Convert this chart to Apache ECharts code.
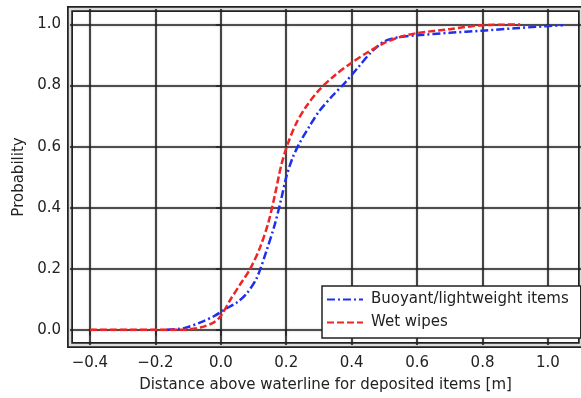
<!DOCTYPE html>
<html>
<head>
<meta charset="utf-8">
<script src="https://cdn.jsdelivr.net/npm/echarts@6/dist/echarts.min.js"></script>
<style>html,body{margin:0;padding:0;background:#fff}#c{width:581px;height:398px}</style>
</head>
<body>
<div id="c"></div>
<script>
// Data
var xTicks = [-0.4, -0.2, 0.0, 0.2, 0.4, 0.6, 0.8, 1.0];
var yTicks = [0.0, 0.2, 0.4, 0.6, 0.8, 1.0];

var buoyantName = 'Buoyant/lightweight items';
var buoyantX = [-0.165, -0.11, -0.06, -0.02, 0.01, 0.05, 0.08, 0.11, 0.14, 0.165, 0.185, 0.2, 0.22, 0.245, 0.27, 0.3, 0.34, 0.38, 0.42, 0.46, 0.5, 0.54, 0.6, 0.7, 0.8, 0.9, 1.046];
var buoyantY = [0.0, 0.006, 0.025, 0.045, 0.065, 0.09, 0.12, 0.17, 0.26, 0.345, 0.43, 0.5, 0.565, 0.62, 0.665, 0.715, 0.765, 0.81, 0.86, 0.91, 0.945, 0.958, 0.965, 0.973, 0.98, 0.988, 0.998];

var wipesName = 'Wet wipes';
var wipesX = [-0.4, -0.12, -0.06, -0.02, 0.0, 0.03, 0.06, 0.09, 0.12, 0.145, 0.165, 0.185, 0.205, 0.23, 0.26, 0.3, 0.35, 0.4, 0.45, 0.5, 0.55, 0.6, 0.7, 0.8, 0.915];
var wipesY = [0.0, 0.0, 0.008, 0.025, 0.045, 0.1, 0.15, 0.2, 0.27, 0.35, 0.44, 0.54, 0.61, 0.675, 0.73, 0.785, 0.835, 0.875, 0.91, 0.94, 0.96, 0.972, 0.985, 0.998, 1.0];

var xLabel = 'Distance above waterline for deposited items [m]';
var yLabel = 'Probability';

function pairs(xs, ys) { return xs.map(function (x, i) { return [x, ys[i]]; }); }
function fmt(v) { return (v < 0 ? '\u2212' : '') + Math.abs(v).toFixed(1); }

var FONT = 'DejaVu Sans';
var X_MIN = -0.461, X_MAX = 1.101, Y_MIN = -0.05, Y_MAX = 1.051;
var gridPos = { left: 70, right: 0, top: 9, bottom: 53 };
var splitStyle = { color: '#222', width: 1.6, shadowColor: 'rgba(0,0,0,0.35)', shadowBlur: 2 };

var chart = echarts.init(document.getElementById('c'), null, { renderer: 'canvas' });
chart.setOption({
  animation: false,
  backgroundColor: '#fff',
  grid: [
    Object.assign({ show: true, borderColor: '#222', borderWidth: 6, backgroundColor: 'transparent' }, gridPos),
    Object.assign({ show: true, borderColor: '#dcdcdc', borderWidth: 2.5, backgroundColor: 'transparent' }, gridPos)
  ],
  xAxis: [{
    gridIndex: 0, type: 'value', min: X_MIN, max: X_MAX, splitNumber: 8,
    name: xLabel, nameLocation: 'middle', nameGap: 33,
    nameTextStyle: { fontFamily: FONT, fontSize: 15, color: '#222' },
    axisLine: { show: false },
    axisTick: { show: true, inside: false, length: 6, customValues: xTicks, lineStyle: { color: '#222', width: 1.5 } },
    axisLabel: { customValues: xTicks, formatter: fmt, fontFamily: FONT, fontSize: 15, color: '#222', margin: 11 },
    splitLine: { show: true, lineStyle: splitStyle }
  }, {
    gridIndex: 1, type: 'value', min: X_MIN, max: X_MAX, show: false
  }],
  yAxis: [{
    gridIndex: 0, type: 'value', min: Y_MIN, max: Y_MAX, splitNumber: 5,
    name: yLabel, nameLocation: 'middle', nameGap: 43, nameRotate: 90,
    nameTextStyle: { fontFamily: FONT, fontSize: 15, color: '#222' },
    axisLine: { show: false },
    axisTick: { show: true, inside: false, length: 5, customValues: yTicks, lineStyle: { color: '#222', width: 1.5 } },
    axisLabel: { customValues: yTicks, formatter: fmt, fontFamily: FONT, fontSize: 15, color: '#222', margin: 9 },
    splitLine: { show: true, lineStyle: splitStyle }
  }, {
    gridIndex: 1, type: 'value', min: Y_MIN, max: Y_MAX, show: false
  }],
  legend: {
    orient: 'vertical', left: 322, top: 286,
    padding: [6, 12, 8, 4], itemWidth: 36, itemHeight: 14, itemGap: 8,
    backgroundColor: '#fff', borderColor: '#222', borderWidth: 1.5,
    itemStyle: { opacity: 0 },
    textStyle: { fontFamily: FONT, fontSize: 15, color: '#222', padding: [0, 0, 0, 3] },
    data: [buoyantName, wipesName]
  },
  series: [{
    name: buoyantName, type: 'line', symbol: 'none', smooth: 0.3,
    data: pairs(buoyantX, buoyantY),
    lineStyle: { color: '#1f2ff0', width: 2.5, type: [8, 3, 2, 3] },
    itemStyle: { color: '#1f2ff0' }
  }, {
    name: wipesName, type: 'line', symbol: 'none', smooth: 0.3,
    data: pairs(wipesX, wipesY),
    lineStyle: { color: '#f02424', width: 2.5, type: [7, 3] },
    itemStyle: { color: '#f02424' }
  }]
});
</script>
</body>
</html>
